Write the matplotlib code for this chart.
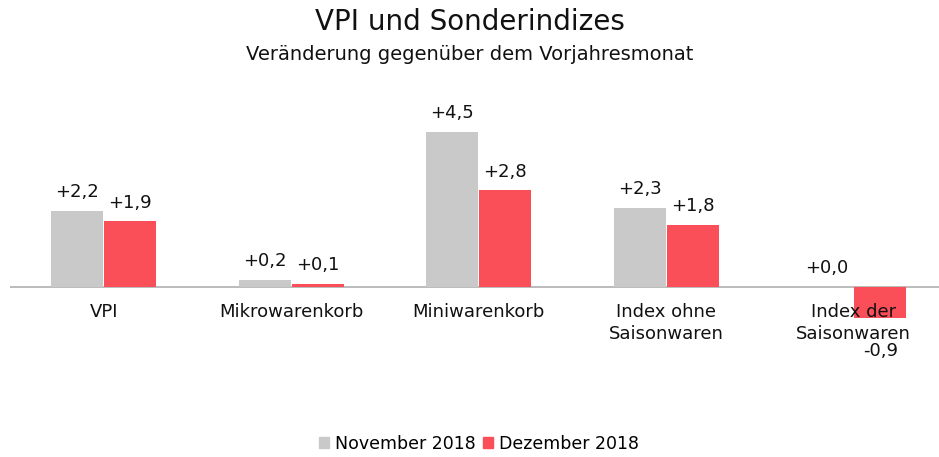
import matplotlib
matplotlib.use("Agg")
import matplotlib.pyplot as plt
from matplotlib.patches import Patch

categories = ["VPI", "Mikrowarenkorb", "Miniwarenkorb", "Index ohne\nSaisonwaren", "Index der\nSaisonwaren"]
nov_2018 = [2.2, 0.2, 4.5, 2.3, 0.0]
dez_2018 = [1.9, 0.1, 2.8, 1.8, -0.9]
series_names = ["November 2018", "Dezember 2018"]

GRAY = "#C9C9C9"
RED = "#FA4E58"

plt.rcParams["font.family"] = ["DejaVu Sans"]

W, H = 939, 457
fig = plt.figure(figsize=(W / 100, H / 100), dpi=100)

# axes geometry in pixels: zero line at y=287, 34.5 px per unit, 187.5 px per category
ppu = 34.5
ymin, ymax = -2.5, 5.5
zero_px = 287
top_px = zero_px - ymax * ppu
bot_px = zero_px - ymin * ppu
left_px = 10
cat_px = 187.5
ax = fig.add_axes([left_px / W, (H - bot_px) / H, (W - left_px) / W, (bot_px - top_px) / H])
ax.set_ylim(ymin, ymax)
ax.set_xlim(-0.5, -0.5 + (W - left_px) / cat_px)
ax.axis("off")

bw = 0.277
gap = 0.006
x = list(range(len(categories)))
xn = [i - bw / 2 - gap / 2 for i in x]
xd = [i + bw / 2 + gap / 2 for i in x]
ax.bar(xn, nov_2018, width=bw, color=GRAY, zorder=2)
ax.bar(xd, dez_2018, width=bw, color=RED, zorder=2)
ax.axhline(0, color="#AFAFAF", lw=1.2, zorder=1)


def fmt(v):
    s = f"{abs(v):.1f}".replace(".", ",")
    return ("-" if v < 0 else "+") + s


for xs, vals in ((xn, nov_2018), (xd, dez_2018)):
    for xi, v in zip(xs, vals):
        if v >= 0:
            ax.annotate(fmt(v), (xi, v), xytext=(0, 7), textcoords="offset points",
                        ha="center", va="bottom", fontsize=13, color="#111111", zorder=3)
        else:
            ax.annotate(fmt(v), (xi, v), xytext=(0, -17.5), textcoords="offset points",
                        ha="center", va="top", fontsize=13, color="#111111", zorder=3)

for xi, lab in zip(x, categories):
    ax.annotate(lab, (xi, 0), xytext=(0, -11.5), textcoords="offset points",
                ha="center", va="top", fontsize=13, linespacing=1.3,
                color="#111111", zorder=4)

fig.text(0.5, 1 - 22 / H, "VPI und Sonderindizes", ha="center", va="center",
         fontsize=20, color="#111111")
fig.text(0.5, 1 - 55 / H, "Veränderung gegenüber dem Vorjahresmonat", ha="center",
         va="center", fontsize=14, color="#111111")

handles = [Patch(color=GRAY), Patch(color=RED)]
fig.legend(handles, series_names, loc="center", bbox_to_anchor=(0.51, 1 - 444 / H),
           ncol=2, frameon=False, fontsize=12.5, handlelength=0.6, handleheight=0.6,
           handletextpad=0.35, columnspacing=0.4, borderaxespad=0)

fig.savefig("out.png", dpi=100)
